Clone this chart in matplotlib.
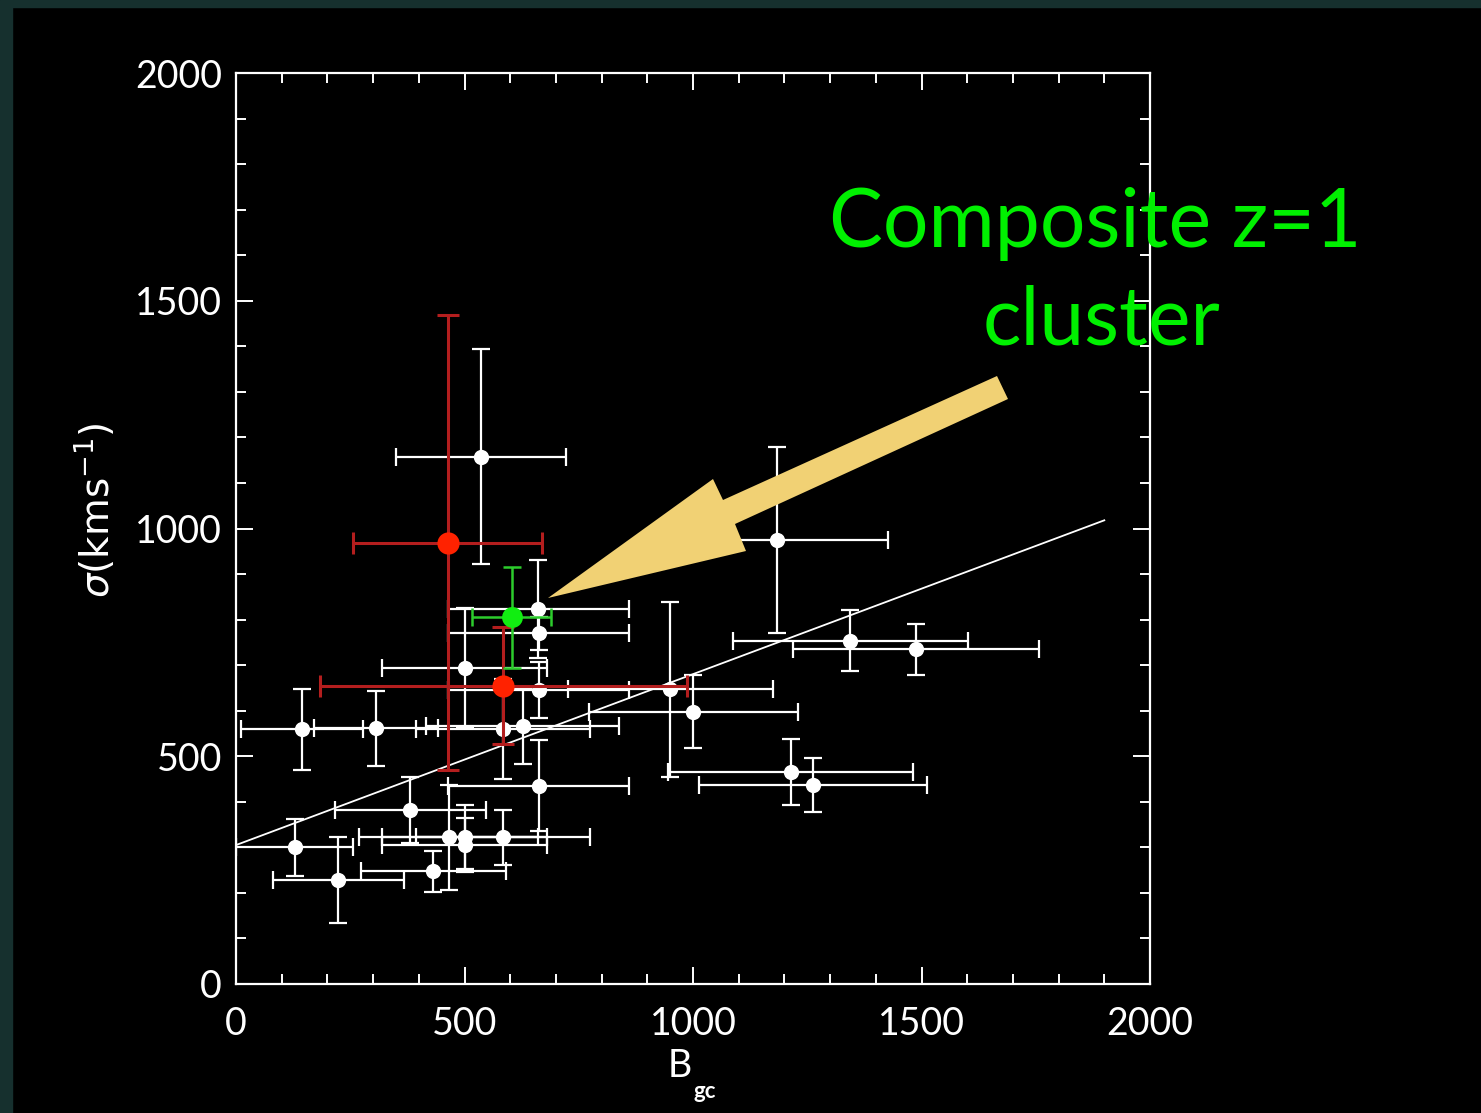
import matplotlib
matplotlib.use("Agg")
import matplotlib.pyplot as plt
from matplotlib.patches import Polygon, Rectangle
from matplotlib.ticker import MultipleLocator

# ----------------------------
# data: velocity dispersion vs B_gc
# ----------------------------
bgc_white = [536, 661, 662, 500, 662, 662, 627, 584, 144, 306, 381, 129, 224,
             432, 465, 500, 500, 584, 1183, 1344, 1488, 1001, 1214, 1263, 950]
sig_white = [1158, 823, 770, 693, 646, 435, 567, 560, 559, 561, 382, 300, 228,
             247, 322, 322, 305, 322, 974, 754, 735, 598, 465, 437, 647]
bgc_err_white = [186, 198, 198, 180, 198, 198, 212, 190, 133, 135, 165, 128, 144,
                 158, 195, 180, 180, 190, 244, 257, 270, 229, 268, 250, 224]
sig_err_white = [236, 108, 36, 132, 61, 100, 83, 110, 89, 82, 72, 62, 94,
                 45, 115, 70, 60, 60, 204, 67, 56, 80, 73, 60, 192]

bgc_red = [463, 585]
sig_red = [969, 655]
bgc_err_red = [207, 402]
sig_err_red = [500, 128]

bgc_green = [603]
sig_green = [805]
bgc_err_green = [86]
sig_err_green = [111]

fit_x = [0, 1900]
fit_y = [305, 1018]

W, H = 1481, 1113
fig = plt.figure(figsize=(W / 100, H / 100), dpi=100, facecolor="black")

# slide edge strips
fig.patches.append(Rectangle((0, 1 - 7 / H), 1, 7 / H, transform=fig.transFigure,
                             color="#16302e", zorder=0))
fig.patches.append(Rectangle((0, 0), 12 / W, 1, transform=fig.transFigure,
                             color="#16302e", zorder=0))

ax = fig.add_axes([236 / W, 1 - 984 / H, (1150 - 236) / W, (984 - 73) / H])
ax.set_facecolor("black")

ax.errorbar(bgc_white, sig_white, xerr=bgc_err_white, yerr=sig_err_white,
            fmt="o", color="white", ecolor="white", ms=11, mec="none",
            elinewidth=1.6, capsize=6.5, capthick=1.6, zorder=3)
ax.plot(fit_x, fit_y, color="white", lw=1.3, zorder=2)
ax.errorbar(bgc_red, sig_red, xerr=bgc_err_red, yerr=sig_err_red,
            fmt="o", color="#ff2200", ecolor="#b41e1e", ms=16, mec="none",
            elinewidth=2.2, capsize=8, capthick=2.2, zorder=4)
ax.errorbar(bgc_green, sig_green, xerr=bgc_err_green, yerr=sig_err_green,
            fmt="o", color="#11ee11", ecolor="#2ccc2c", ms=15, mec="none",
            elinewidth=1.8, capsize=6.5, capthick=1.8, zorder=5)

ax.set_xlim(0, 2000)
ax.set_ylim(0, 2000)
ax.xaxis.set_major_locator(MultipleLocator(500))
ax.xaxis.set_minor_locator(MultipleLocator(100))
ax.yaxis.set_major_locator(MultipleLocator(500))
ax.yaxis.set_minor_locator(MultipleLocator(100))
for s in ax.spines.values():
    s.set_color("white")
    s.set_linewidth(1.6)
ax.tick_params(which="both", direction="in", top=True, right=True,
               colors="white", width=1.4)
ax.tick_params(which="major", length=12)
ax.tick_params(which="minor", length=7)
ax.tick_params(axis="x", pad=16)
ax.tick_params(axis="y", pad=10)
for lab in ax.get_xticklabels() + ax.get_yticklabels():
    lab.set_family("Lato")
    lab.set_fontsize(27)
    lab.set_color("white")

# axis titles
fig.text(680 / W, 1 - 1066 / H, "B", color="white", fontsize=27,
         family="Lato", ha="center", va="center")
fig.text(705 / W, 1 - 1092 / H, "gc", color="white", fontsize=16,
         family="Lato", weight="bold", ha="center", va="center")
fig.text(95 / W, 1 - 510 / H, r"$\sigma$(kms$^{-1}$)", color="white",
         fontsize=28, rotation=90, ha="center", va="center")

# callout arrow
arrow_px = [(997, 376), (723, 500), (713, 479), (548, 598),
            (746, 551), (735, 524), (1008, 399)]
fig.patches.append(Polygon([(x / W, 1 - y / H) for x, y in arrow_px], closed=True,
                           transform=fig.transFigure, facecolor="#f1d174",
                           edgecolor="none", zorder=6))

fig.text(1095 / W, 1 - 224 / H, "Composite z=1", color="#00f000", fontsize=58,
         family="Lato", ha="center", va="center", zorder=7)
fig.text(1102 / W, 1 - 322 / H, "cluster", color="#00f000", fontsize=58,
         family="Lato", ha="center", va="center", zorder=7)

fig.savefig("out.png", dpi=100, facecolor="black")
